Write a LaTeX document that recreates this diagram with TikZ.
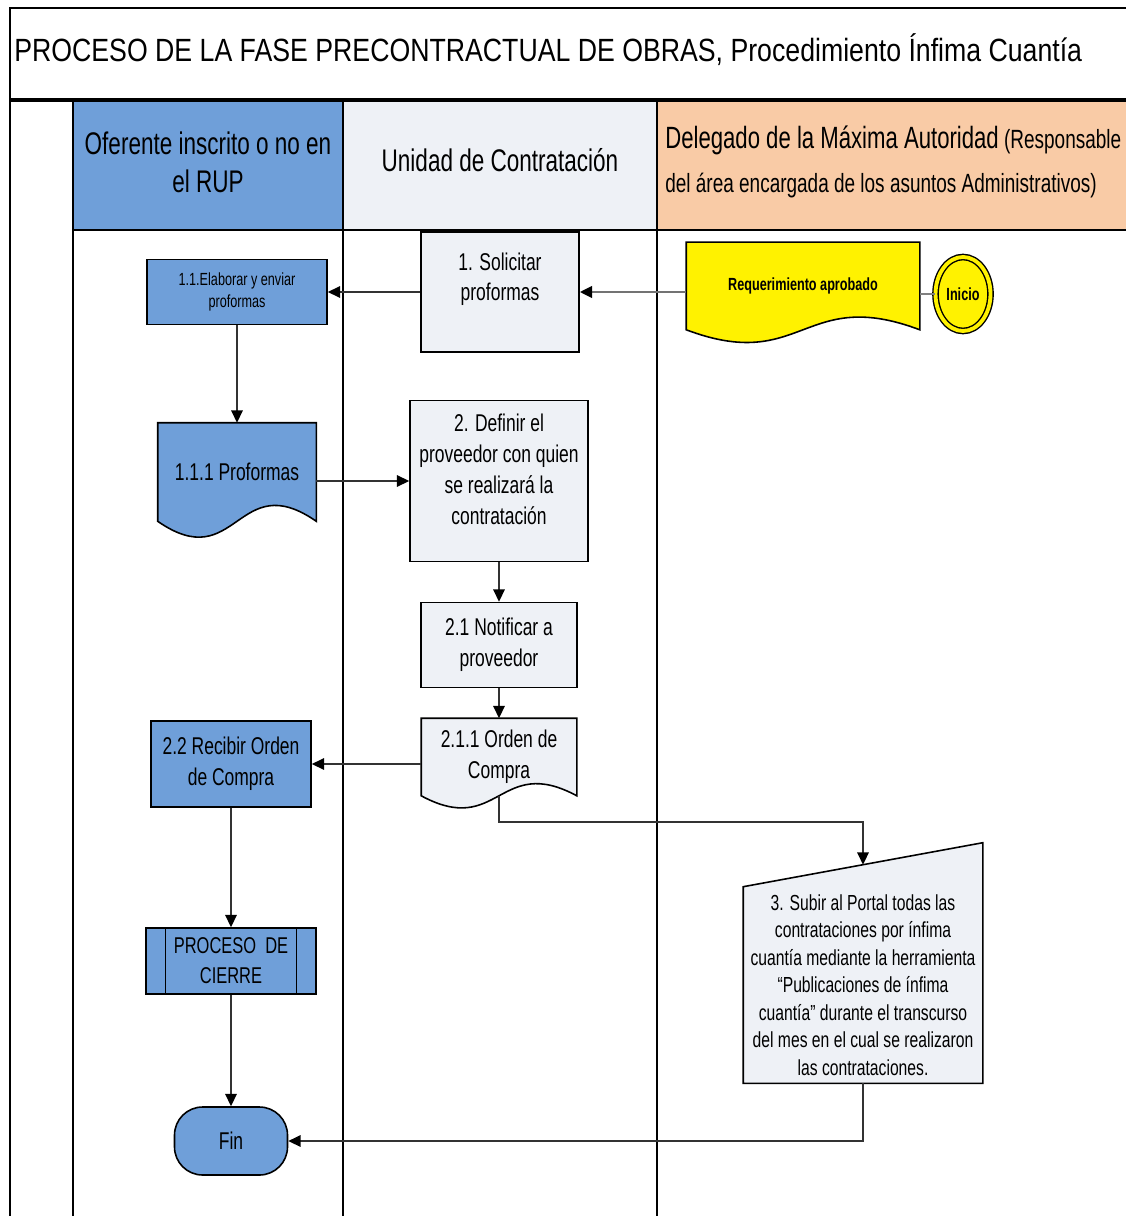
\documentclass[tikz,border=0pt]{standalone}
\usepackage{fontspec}
\setmainfont[FakeStretch=0.72]{Liberation Sans}
\newfontfamily\titlefont[FakeStretch=0.83]{Liberation Sans}
\usetikzlibrary{arrows.meta,calc,backgrounds,shapes.geometric}
\definecolor{laneblue}{HTML}{6F9FD9}
\definecolor{lanegray}{HTML}{EEF1F6}
\definecolor{laneorange}{HTML}{F9CBA6}
\newdimen\ux \ux=0.02cm

\begin{document}
\begin{tikzpicture}[x=0.02cm, y=-0.02cm,
    box/.style={draw, line width=0.9pt, align=center, inner sep=2pt, font=\fontsize{13.8}{17.5}\selectfont},
    docbox/.style={box, draw=none},
    docline/.style={draw, line width=0.9pt},
    conn/.style={line width=1.1pt, draw=black!80, -{Triangle[length=7pt,width=6.5pt,color=black]}},
    lane/.style={line width=1.2pt}]
      \useasboundingbox (0,0) rectangle (1126,1216);
      \fill[laneblue] (73,100) rectangle (343,230);
      \fill[lanegray] (343,100) rectangle (657,230);
      \fill[laneorange] (657,100) rectangle (1126,230);
      \draw[lane] (10,1216) -- (10,8) -- (1126,8);
      \draw[line width=1.8pt] (10,100) -- (1126,100);
      \draw[lane] (73,230) -- (1126,230);
      \foreach \x in {73,343,657}
        \draw[lane] (\x,100) -- (\x,1216);

      \node[anchor=west, inner sep=0pt, font=\titlefont\fontsize{18.3}{22}\selectfont] (title) at (14,50)
        {PROCESO DE LA FASE PRECONTRACTUAL DE OBRAS, Procedimiento Ínfima Cuantía};
      \node[align=center, font=\fontsize{17.8}{21.5}\selectfont] (lane1) at (208,162) {Oferente inscrito o no en\\el RUP};
      \node[align=center, font=\fontsize{17.8}{21.5}\selectfont] (lane2) at (500,160) {Unidad de Contratación};
      \node[anchor=west, align=left, inner sep=0pt, font=\fontsize{15}{25}\selectfont] (lane3) at (665,162)
        {{\fontsize{17.5}{25}\selectfont Delegado de la Máxima Autoridad} (Responsable\\del área encargada de los asuntos Administrativos)};

      \node[box, fill=laneblue, minimum width=180\ux, minimum height=65\ux, font=\fontsize{10}{13}\selectfont] (elab) at (237,292)
        {1.1.Elaborar y enviar\\proformas};
      \node[box, fill=lanegray, minimum width=158\ux, minimum height=120\ux] (solic) at (500,292)
        {1. Solicitar\\proformas\\\mbox{}};
      \node[docbox, minimum width=232\ux, minimum height=86\ux, font=\bfseries\fontsize{10}{13}\selectfont] (req) at (803,286)
        {Requerimiento aprobado};
      \node[ellipse, draw, double=yellow, double distance=2.2pt, fill=yellow, line width=0.8pt, minimum width=55\ux,
        minimum height=74\ux, inner sep=0pt, font=\bfseries\fontsize{10}{12}\selectfont] (ini) at (963,294) {Inicio};
      \node[docbox, minimum width=157\ux, minimum height=97\ux] (prof) at (237,472) {1.1.1 Proformas};
      \node[box, fill=lanegray, minimum width=178\ux, minimum height=161\ux] (defin) at (499,481)
        {2. Definir el\\proveedor con quien\\se realizará la\\contratación\\[-4pt]};
      \node[box, fill=lanegray, minimum width=156\ux, minimum height=85\ux] (notif) at (499,645) {2.1 Notificar a\\proveedor};
      \node[docbox, minimum width=154\ux, minimum height=76\ux] (orden) at (499,757) {2.1.1 Orden de\\Compra};
      \node[box, fill=laneblue, minimum width=160\ux, minimum height=86\ux] (recib) at (231,764) {2.2 Recibir Orden\\de Compra};
      \node[box, fill=laneblue, minimum width=170\ux, minimum height=66\ux, font=\fontsize{13}{17}\selectfont] (cierre) at (231,961)
        {PROCESO~ DE\\CIERRE};
      \node[box, fill=laneblue, rounded corners=16pt, minimum width=113\ux, minimum height=68\ux] (fin) at (231,1141) {Fin};
      \node[docbox, minimum width=238\ux, minimum height=195\ux, font=\fontsize{12.4}{15.6}\selectfont] (subir) at (863,985)
        {3. Subir al Portal todas las\\contrataciones por ínfima\\cuantía mediante la herramienta\\``Publicaciones de ínfima\\cuantía'' durante el transcurso\\del mes en el cual se realizaron\\las contrataciones.};
      \coordinate (subirtop) at ($(subir.north)+(0,-22)$);

      \draw[line width=0.8pt] ([xshift=20\ux]cierre.north west) -- ([xshift=20\ux]cierre.south west);
      \draw[line width=0.8pt] ([xshift=-20\ux]cierre.north east) -- ([xshift=-20\ux]cierre.south east);

      \begin{scope}[on background layer]
        \foreach \n/\c/\d in {req/yellow/44, prof/laneblue/55, orden/lanegray/42}
          \draw[docline, fill=\c] (\n.north west) -- (\n.north east) -- (\n.south east)
            .. controls ($(\n.south)+(0,-\d)$) and ($(\n.south)+(0,\d)$) .. (\n.south west) -- cycle;
        \draw[docline, fill=lanegray] (subir.south west) -- (subir.north west) -- ($(subir.north east)+(0,-44)$)
          -- (subir.south east) -- cycle;
      \end{scope}

      \draw[line width=1.6pt, draw=black!50] (ini.west) -- (ini.west -| req.east);
      \draw[conn, line width=1.6pt, draw=black!55] (req.west |- solic.east) -- (solic.east);
      \draw[conn] (solic.west) -- (elab.east);
      \draw[conn] (elab) -- (prof);
      \draw[conn] (prof.east |- defin.west) -- (defin.west);
      \draw[conn] (defin) -- (notif);
      \draw[conn] (notif) -- (orden);
      \draw[conn] (orden.west |- recib.east) -- (recib.east);
      \draw[conn] (orden.south) -- ++(0,26) -| (subirtop);
      \draw[conn] (recib) -- (cierre);
      \draw[conn] (cierre) -- (fin);
      \draw[conn] (subir.south) |- (fin.east);
\end{tikzpicture}
\end{document}
